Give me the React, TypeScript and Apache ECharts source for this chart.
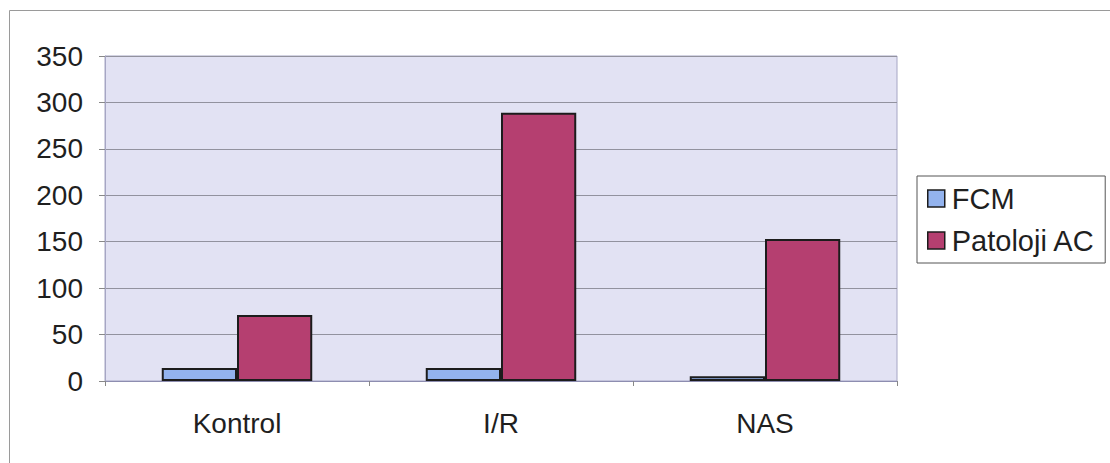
import React, { useEffect, useRef } from "react";
import * as echarts from "echarts";

// Groups along the x axis
const categories = ["Kontrol", "I/R", "NAS"];
// Series values per group
const fcmValues = [14, 14, 5];
const patolojiValues = [71, 289, 153];
const seriesNames = ["FCM", "Patoloji AC"];

const FONT = "'Liberation Sans', Arial, sans-serif";
const TEXT = "#1f1f1f";

export default function App() {
  const ref = useRef<HTMLDivElement>(null);

  useEffect(() => {
    if (!ref.current) return;
    const chart = echarts.init(ref.current, undefined, { renderer: "svg" });
    const barBorder = { borderColor: "#1c1c1c", borderWidth: 2 };
    chart.setOption({
      animation: false,
      backgroundColor: "#ffffff",
      textStyle: { fontFamily: FONT },
      graphic: [
        {
          type: "rect",
          shape: { x: 9.5, y: 10.5, width: 1120, height: 470 },
          style: { fill: "none", stroke: "#9a9a9a", lineWidth: 1 },
          silent: true,
        },
      ],
      grid: {
        left: 105,
        right: 213,
        top: 56,
        bottom: 82,
        show: true,
        backgroundColor: "#e2e2f3",
        borderColor: "#a6a6c4",
        borderWidth: 1,
      },
      legend: {
        orient: "vertical",
        left: 917,
        top: 176,
        padding: [8, 10, 8, 10],
        itemGap: 13,
        itemWidth: 17,
        itemHeight: 17,
        icon: "rect",
        borderColor: "#555555",
        borderWidth: 1,
        backgroundColor: "#ffffff",
        itemStyle: { borderColor: "#1c1c1c", borderWidth: 1.5 },
        textStyle: { fontSize: 29, color: TEXT, fontFamily: FONT, padding: [0, 0, 0, 2] },
        data: seriesNames,
      },
      xAxis: {
        type: "category",
        data: categories,
        axisLine: { show: true, lineStyle: { color: "#8d8db0", width: 1 } },
        axisTick: { show: true, alignWithLabel: false, length: 5, lineStyle: { color: "#888888" } },
        axisLabel: { fontSize: 28, color: TEXT, margin: 28, fontFamily: FONT },
      },
      yAxis: {
        type: "value",
        min: 0,
        max: 350,
        interval: 50,
        axisLine: { show: true, lineStyle: { color: "#a6a6c4", width: 1 } },
        axisTick: { show: true, length: 6, lineStyle: { color: "#888888" } },
        axisLabel: { fontSize: 28, color: TEXT, margin: 22, fontFamily: FONT },
        splitLine: { show: true, lineStyle: { color: "#92929e", width: 1 } },
      },
      series: [
        {
          name: seriesNames[0],
          type: "bar",
          data: fcmValues,
          barCategoryGap: "43%",
          barGap: "0%",
          itemStyle: { color: "#93b3ee", ...barBorder },
        },
        {
          name: seriesNames[1],
          type: "bar",
          data: patolojiValues,
          barCategoryGap: "43%",
          barGap: "0%",
          itemStyle: { color: "#b53f70", ...barBorder },
        },
      ],
    });
    return () => chart.dispose();
  }, []);

  return (
    <div
      ref={ref}
      style={{ position: "fixed", left: 0, top: 0, width: 1110, height: 463, background: "#fff" }}
    />
  );
}
